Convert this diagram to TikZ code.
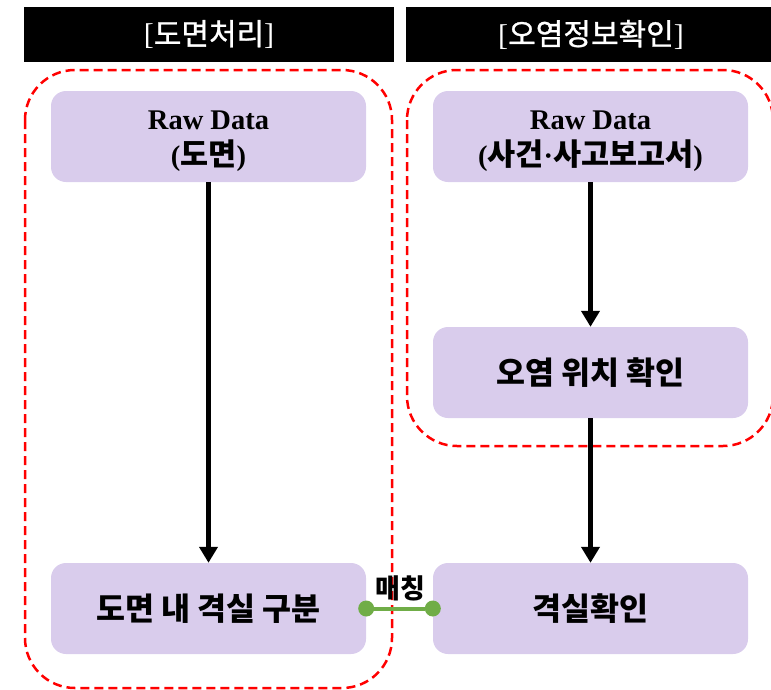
\documentclass[tikz,border=0pt]{standalone}
\usepackage{fontspec}
\setmainfont{Liberation Serif}
\newfontfamily\kr{Noto Sans CJK KR}
\newfontfamily\krh{Noto Sans CJK KR}[FakeBold=1]
\usetikzlibrary{arrows.meta}
\definecolor{boxfill}{HTML}{D9CCEC}
\definecolor{linkgreen}{HTML}{70AD47}
\definecolor{dashred}{HTML}{FF0000}
\newcommand{\krin}[1]{{\kr\fontsize{30.5}{36}\selectfont #1}}
\begin{document}
\begin{tikzpicture}[x=1pt,y=-1pt,
  hdr/.style={fill=black, minimum width=370pt, minimum height=55pt, inner sep=0pt, text=white, font=\fontsize{30}{32}\selectfont},
  proc/.style={fill=boxfill, rounded corners=15pt, minimum width=315pt, minimum height=91pt, inner sep=0pt, align=center, font=\bfseries\fontsize{28.5}{36}\selectfont},
  krproc/.style={proc, font=\kr\bfseries\fontsize{31.5}{36}\selectfont},
  rawtext/.style={inner sep=0pt, align=center, font=\bfseries\fontsize{28.5}{36}\selectfont},
  group/.style={draw=dashred, line width=2.5pt, dash pattern=on 9pt off 5pt, rounded corners=50pt},
  flow/.style={line width=5pt, -{Triangle[width=18pt,length=16pt]}},
  link/.style={draw=linkgreen, line width=4pt},
  dot/.style={circle, fill=linkgreen, inner sep=0pt, minimum size=16pt},
  lbl/.style={font=\kr\bfseries\fontsize{27}{29}\selectfont, inner sep=0pt},
]
\useasboundingbox (0,0) rectangle (771,689);
\clip (0,0) rectangle (771,689);
% headers
\node[hdr] (hl) at (209,34.5) {[{\krh 도면처리}]};
\node[hdr] (hr) at (591,34.5) {[{\krh 오염정보확인}]};
% group frames
\draw[group] (25,70) rectangle (392,688);
\draw[group] (407,70) rectangle (773,446);
% boxes
\node[proc] (rawL) at (208.5,136.5) {};
\node[rawtext] (rawLt) at ([yshift=-5pt]rawL.center) {Raw Data\\(\krin{도면})};
\node[proc] (rawR) at (590.5,136.5) {};
\node[rawtext] (rawRt) at ([yshift=-5pt]rawR.center) {Raw Data\\(\krin{사건}·\krin{사고보고서})};
\node[krproc] (locR) at (590.5,372.5) {오염 위치 확인};
\node[krproc] (divL) at (208.5,608.5) {도면 내 격실 구분};
\node[krproc] (chkR) at (590.5,608.5) {격실확인};
% flows
\draw[flow] (rawL.south) -- (divL.north);
\draw[flow] (rawR.south) -- (locR.north);
\draw[flow] (locR.south) -- (chkR.north);
% matching link
\node[dot] (dl) at (divL.east) {};
\node[dot] (dr) at (chkR.west) {};
\draw[link] (dl) -- (dr);
\node[lbl] (match) at (400,588) {매칭};
\end{tikzpicture}
\end{document}
